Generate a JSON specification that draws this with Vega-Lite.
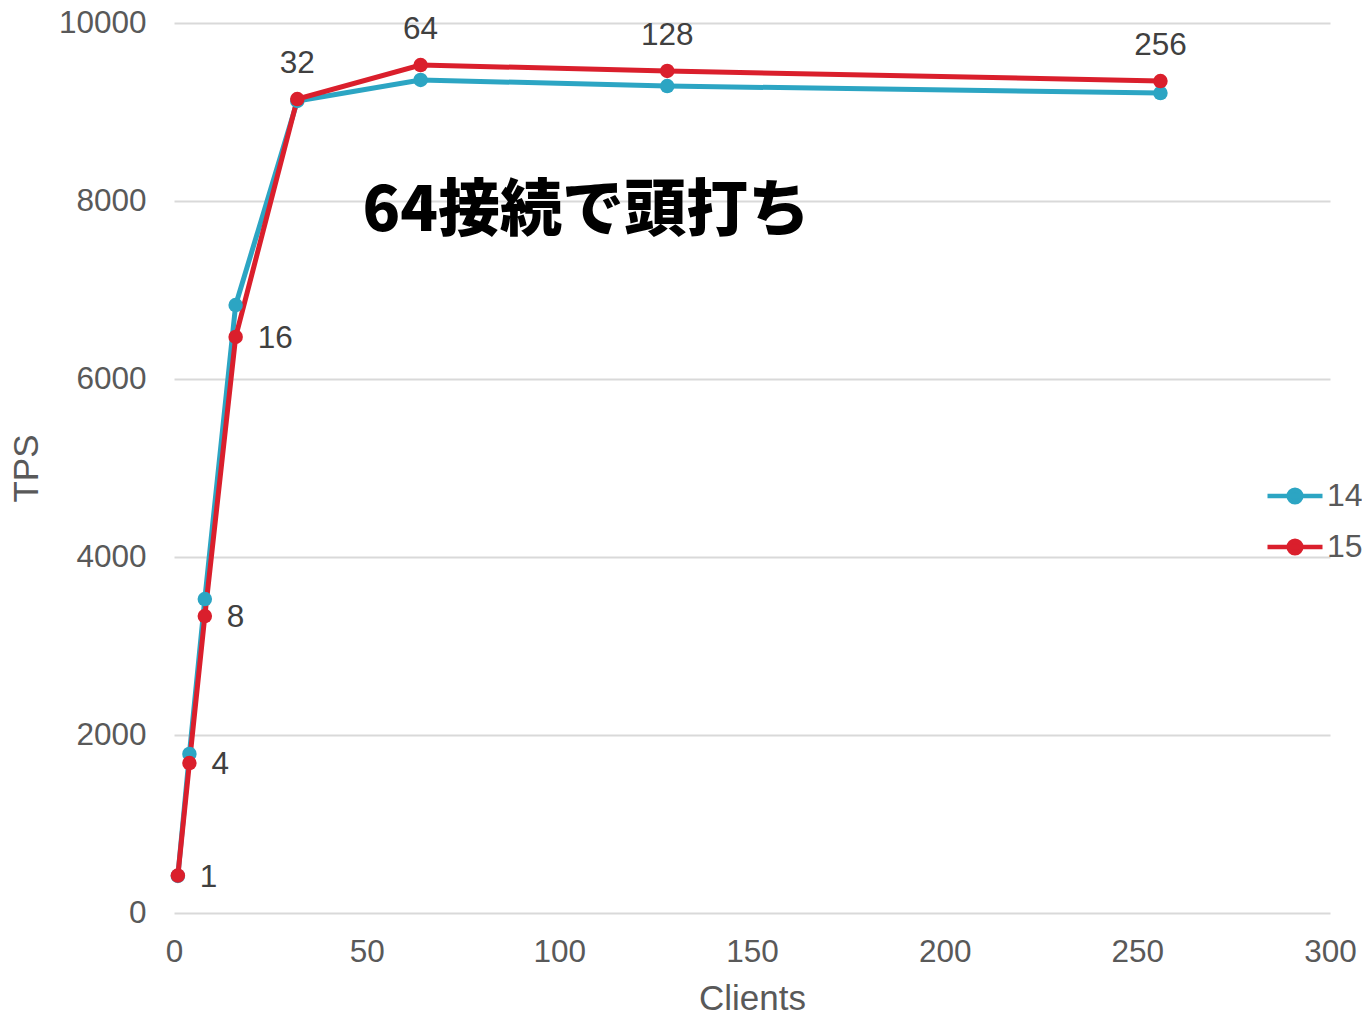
{
  "$schema": "https://vega.github.io/schema/vega-lite/v6.json",
  "width": 1156,
  "height": 890,
  "autosize": {"type": "none"},
  "padding": {"left": 174, "top": 23, "right": 32, "bottom": 101},
  "background": "white",
  "config": {
    "view": {"stroke": null},
    "font": "Liberation Sans",
    "axis": {"labelFont": "Liberation Sans", "titleFont": "Liberation Sans", "labelColor": "#595959", "titleColor": "#595959", "titleFontWeight": "normal"},
    "legend": {"labelFont": "Liberation Sans"}
  },
  "data": {
    "values": [
      {"clients": 1, "version": "14", "tps": 416},
      {"clients": 4, "version": "14", "tps": 1787},
      {"clients": 8, "version": "14", "tps": 3528},
      {"clients": 16, "version": "14", "tps": 6831},
      {"clients": 32, "version": "14", "tps": 9124},
      {"clients": 64, "version": "14", "tps": 9360},
      {"clients": 128, "version": "14", "tps": 9292},
      {"clients": 256, "version": "14", "tps": 9213},
      {"clients": 1, "version": "15", "tps": 420},
      {"clients": 4, "version": "15", "tps": 1685},
      {"clients": 8, "version": "15", "tps": 3337},
      {"clients": 16, "version": "15", "tps": 6472},
      {"clients": 32, "version": "15", "tps": 9146},
      {"clients": 64, "version": "15", "tps": 9528},
      {"clients": 128, "version": "15", "tps": 9461},
      {"clients": 256, "version": "15", "tps": 9348}
    ]
  },
  "layer": [
    {
      "mark": {"type": "line", "strokeWidth": 5, "point": {"filled": true, "size": 210}},
      "encoding": {
        "x": {
          "field": "clients", "type": "quantitative",
          "scale": {"domain": [0, 300], "nice": false},
          "axis": {"values": [0, 50, 100, 150, 200, 250, 300], "grid": false, "domain": false, "ticks": false, "labelFlush": false, "labelFontSize": 31.5, "labelPadding": 23, "title": "Clients", "titleFontSize": 35, "titlePadding": 14}
        },
        "y": {
          "field": "tps", "type": "quantitative",
          "scale": {"domain": [0, 10000], "nice": false},
          "axis": {"values": [0, 2000, 4000, 6000, 8000, 10000], "format": "d", "labelFlush": false, "grid": true, "gridColor": "#d9d9d9", "gridWidth": 2, "domain": false, "ticks": false, "labelFontSize": 31.5, "labelPadding": 28, "title": "TPS", "titleFontSize": 35, "titlePadding": 14}
        },
        "color": {
          "field": "version", "type": "nominal",
          "scale": {"domain": ["14", "15"], "range": ["#2CA5C3", "#DA1F2C"]},
          "legend": {
            "title": null, "orient": "none", "legendX": 1091, "legendY": 443, "padding": 0,
            "symbolType": "M-1,0H1M-0.23,0A0.23,0.23 0 1,1 0.23,0A0.23,0.23 0 1,1 -0.23,0Z",
            "symbolSize": 3025, "symbolStrokeWidth": 4.5,
            "labelFontSize": 32, "labelColor": "#595959", "labelOffset": 2, "rowPadding": 5,
            "encode": {"symbols": {"update": {"fill": {"scale": "color", "field": "value"}, "stroke": {"scale": "color", "field": "value"}, "opacity": {"value": 1}}}}
          }
        }
      }
    },
    {
      "transform": [{"filter": "datum.version == '15' && datum.clients < 32"}],
      "mark": {"type": "text", "align": "left", "baseline": "middle", "dx": 22, "dy": 2, "fontSize": 31.5, "color": "#404040"},
      "encoding": {
        "x": {"field": "clients", "type": "quantitative"},
        "y": {"field": "tps", "type": "quantitative"},
        "text": {"field": "clients", "type": "nominal"}
      }
    },
    {
      "transform": [{"filter": "datum.version == '15' && datum.clients >= 32"}],
      "mark": {"type": "text", "align": "center", "baseline": "middle", "dy": -35, "fontSize": 31.5, "color": "#404040"},
      "encoding": {
        "x": {"field": "clients", "type": "quantitative"},
        "y": {"field": "tps", "type": "quantitative"},
        "text": {"field": "clients", "type": "nominal"}
      }
    },
    {
      "data": {"values": [{"x": 107, "y": 7880, "label": "64接続で頭打ち"}]},
      "mark": {"type": "text", "align": "center", "baseline": "middle", "fontSize": 62, "font": "Noto Sans CJK JP", "fontWeight": 900, "color": "#000000"},
      "encoding": {
        "x": {"field": "x", "type": "quantitative"},
        "y": {"field": "y", "type": "quantitative"},
        "text": {"field": "label", "type": "nominal"}
      }
    }
  ]
}
